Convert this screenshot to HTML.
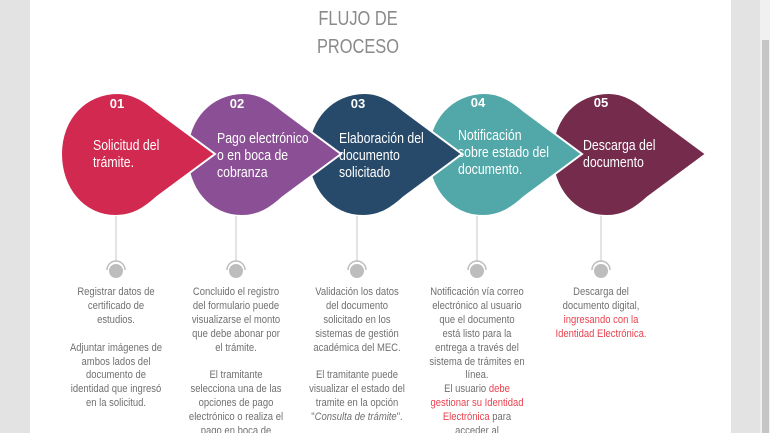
<!DOCTYPE html>
<html><head><meta charset="utf-8"><style>
html,body{margin:0;padding:0;width:770px;height:433px;overflow:hidden;background:#e3e3e3;}
#w{position:relative;width:770px;height:433px;overflow:hidden;background:#e3e3e3;}
.page{position:absolute;left:30px;top:0;width:701px;height:433px;background:#fff;}
.sb{position:absolute;left:760px;top:0;width:10px;height:433px;background:#f0f0f0;}
.thumb{position:absolute;left:762px;top:40px;width:7px;height:393px;background:#c6c6c6;}
.t{position:absolute;font-family:"Liberation Sans",sans-serif;white-space:nowrap;}
.title{width:200px;left:258px;text-align:center;color:#8a8a8a;font-size:20px;transform:scaleX(0.82);}
.num{color:#fff;font-weight:bold;font-size:13px;width:40px;text-align:center;}
.lab{color:#fff;font-size:15px;line-height:17px;transform:scaleX(0.82);transform-origin:left top;}
.desc{color:#707070;font-size:11px;line-height:13.9px;width:160px;text-align:center;transform:scaleX(0.86);}
.r{color:#e8424f;}
</style></head><body><div id="w">
<div class="page"></div>
<div class="sb"></div><div class="thumb"></div>
<div class="t title" style="top:8px">FLUJO DE</div>
<div class="t title" style="top:36px">PROCESO</div>
<svg width="770" height="433" style="position:absolute;left:0;top:0">
<defs>
<path id="d" d="M57,0 C72,0 84,8 96,18 L154,61 L96,104 C84,115 72,123 55,123 C22,123 0,95 0,61 C0,26 24,0 57,0 Z"/>
</defs>
<g stroke="#fff" stroke-width="2">
<use href="#d" x="552" y="93" fill="#752b4c"/>
<use href="#d" x="428" y="93" fill="#52a8a9"/>
<use href="#d" x="308" y="93" fill="#274a6a"/>
<use href="#d" x="187" y="93" fill="#8a4f95"/>
<use href="#d" x="61" y="93" fill="#d1294f"/>
</g>
<g stroke="#c8c8c8" stroke-width="1" fill="none">
<line x1="116" y1="216" x2="116" y2="262"/>
<line x1="236" y1="216" x2="236" y2="262"/>
<line x1="357" y1="216" x2="357" y2="262"/>
<line x1="477" y1="216" x2="477" y2="262"/>
<line x1="601" y1="216" x2="601" y2="262"/>
</g>
<g fill="#bdbdbd" stroke="#bdbdbd">
<circle cx="116" cy="271" r="6.5"/><path d="M107,270 A9,9 0 0 1 125,270" fill="none" stroke-width="1.5"/>
<circle cx="236" cy="271" r="6.5"/><path d="M227,270 A9,9 0 0 1 245,270" fill="none" stroke-width="1.5"/>
<circle cx="357" cy="271" r="6.5"/><path d="M348,270 A9,9 0 0 1 366,270" fill="none" stroke-width="1.5"/>
<circle cx="477" cy="271" r="6.5"/><path d="M468,270 A9,9 0 0 1 486,270" fill="none" stroke-width="1.5"/>
<circle cx="601" cy="271" r="6.5"/><path d="M592,270 A9,9 0 0 1 610,270" fill="none" stroke-width="1.5"/>
</g>
</svg>
<div class="t num" style="left:97px;top:96px">01</div>
<div class="t num" style="left:217px;top:96px">02</div>
<div class="t num" style="left:338px;top:96px">03</div>
<div class="t num" style="left:458px;top:95px">04</div>
<div class="t num" style="left:581px;top:95px">05</div>
<div class="t lab" style="left:93px;top:137px">Solicitud del<br>trámite.</div>
<div class="t lab" style="left:217px;top:130px">Pago electrónico<br>o en boca de<br>cobranza</div>
<div class="t lab" style="left:339px;top:130px">Elaboración del<br>documento<br>solicitado</div>
<div class="t lab" style="left:458px;top:127px">Notificación<br>sobre estado del<br>documento.</div>
<div class="t lab" style="left:583px;top:137px">Descarga del<br>documento</div>
<div class="t desc" style="left:36px;top:286px">Registrar datos de<br>certificado de<br>estudios.<br><br>Adjuntar imágenes de<br>ambos lados del<br>documento de<br>identidad que ingresó<br>en la solicitud.</div>
<div class="t desc" style="left:156px;top:286px">Concluido el registro<br>del formulario puede<br>visualizarse el monto<br>que debe abonar por<br>el trámite.<br><br>El tramitante<br>selecciona una de las<br>opciones de pago<br>electrónico o realiza el<br>pago en boca de</div>
<div class="t desc" style="left:277px;top:286px">Validación los datos<br>del documento<br>solicitado en los<br>sistemas de gestión<br>académica del MEC.<br><br>El tramitante puede<br>visualizar el estado del<br>tramite en la opción<br>"<i>Consulta de trámite</i>".</div>
<div class="t desc" style="left:397px;top:286px">Notificación vía correo<br>electrónico al usuario<br>que el documento<br>está listo para la<br>entrega a través del<br>sistema de trámites en<br>línea.<br>El usuario <span class="r">debe</span><br><span class="r">gestionar su Identidad</span><br><span class="r">Electrónica</span> para<br>acceder al</div>
<div class="t desc" style="left:521px;top:286px">Descarga del<br>documento digital,<br><span class="r">ingresando con la</span><br><span class="r">Identidad Electrónica.</span></div>
</div></body></html>
